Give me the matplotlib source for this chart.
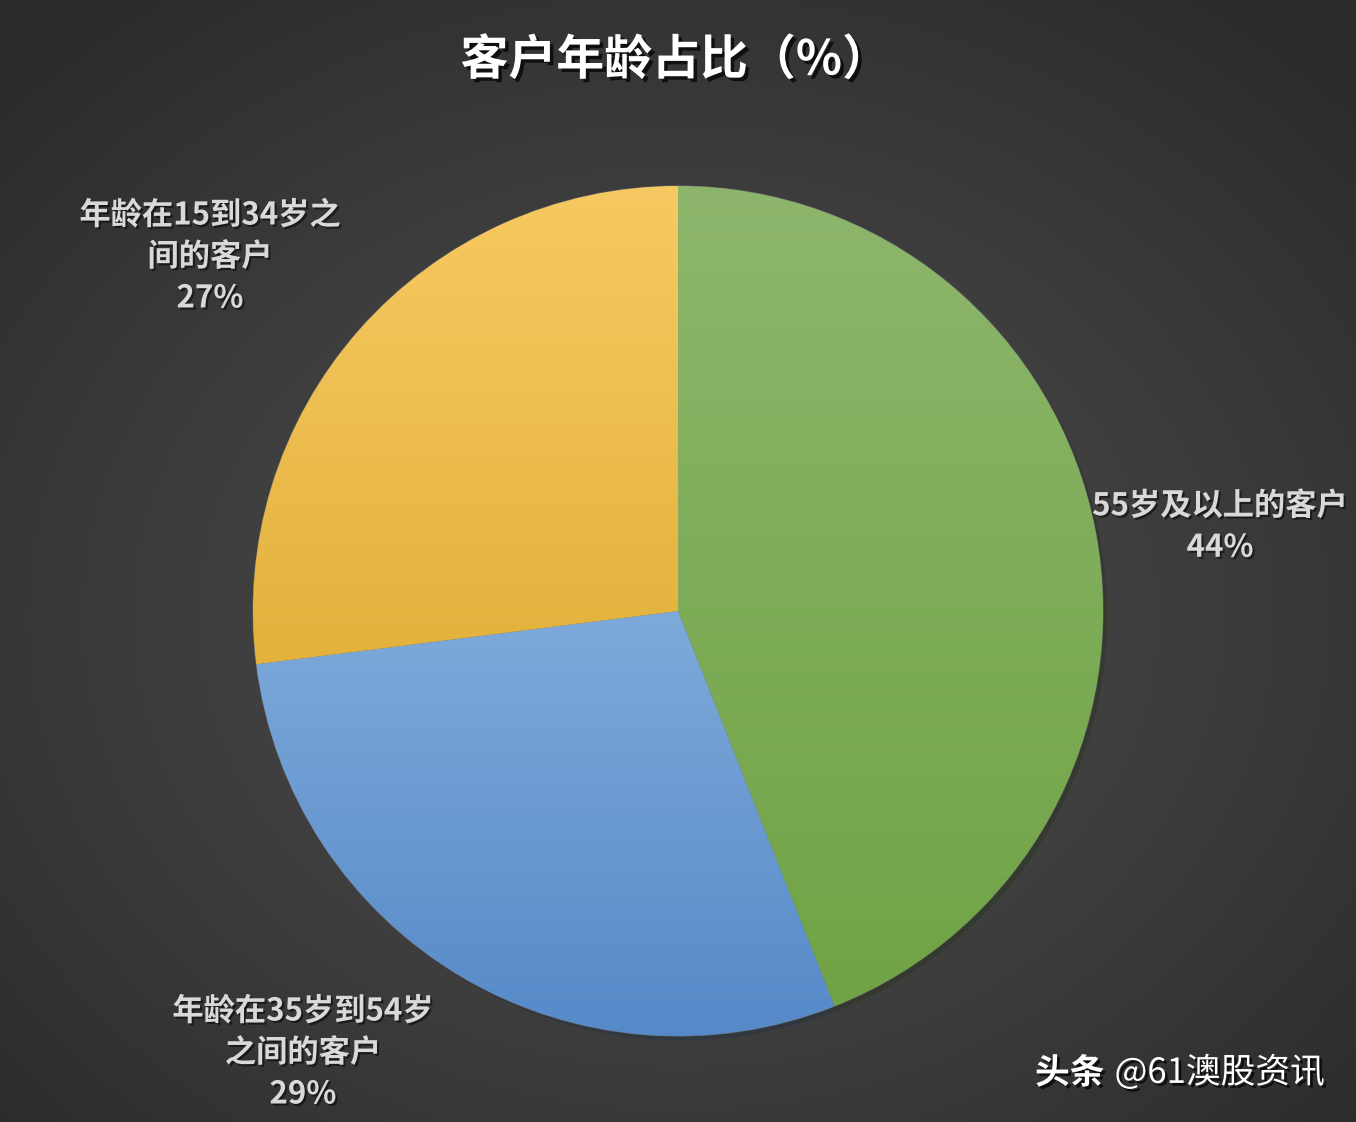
import numpy as np
import matplotlib
matplotlib.use('Agg')
import matplotlib.pyplot as plt
import matplotlib.patheffects as pe
from matplotlib.colors import LinearSegmentedColormap

plt.rcParams['font.family'] = ['Noto Sans CJK SC', 'DejaVu Sans']

# data
labels = ['55岁及以上的客户', '年龄在35岁到54岁\n之间的客户', '年龄在15到34岁之\n间的客户']
values = [44, 29, 27]
top_colors = ['#8db66c', '#7eaada', '#f7c962']
bottom_colors = ['#70a345', '#5589c8', '#e2b23c']

W, H = 1356, 1122
fig = plt.figure(figsize=(W / 100, H / 100), dpi=100)

# background radial gradient
bg = fig.add_axes([0, 0, 1, 1])
yy, xx = np.mgrid[0:H, 0:W]
d = np.sqrt(((xx - W * 0.5) / (W * 0.72)) ** 2 + ((yy - H * 0.55) / (H * 0.72)) ** 2)
d = np.clip(d, 0, 1)
bg_cmap = LinearSegmentedColormap.from_list('bg', ['#515151', '#2a2a2a'])
bg.imshow(d, cmap=bg_cmap, extent=[0, W, 0, H], origin='upper', aspect='auto')
bg.set_axis_off()

ax = fig.add_axes([0, 0, 1, 1])
cx, cy, r = 678, H - 611, 425
wedges, _ = ax.pie(values, startangle=90, counterclock=False, center=(cx, cy),
                   radius=r, colors=top_colors, frame=True,
                   wedgeprops=dict(linewidth=0.8, edgecolor='#666666'))

# gradient fill per slice (lighter at top, darker at bottom)
for w, c1, c2 in zip(wedges, top_colors, bottom_colors):
    w.set_path_effects([pe.SimplePatchShadow(offset=(3, -3), alpha=0.5), pe.Normal()])
    verts = w.get_path().vertices
    y0, y1 = verts[:, 1].min(), verts[:, 1].max()
    x0, x1 = verts[:, 0].min(), verts[:, 0].max()
    cm = LinearSegmentedColormap.from_list('g', [c2, c1])
    grad = np.linspace(0, 1, 256).reshape(-1, 1)
    im = ax.imshow(grad, cmap=cm, extent=[x0, x1, y0, y1], origin='lower',
                   aspect='auto', zorder=w.get_zorder() + 0.1)
    im.set_clip_path(w)

ax.set_xlim(0, W)
ax.set_ylim(0, H)
ax.set_aspect('equal')
ax.set_axis_off()

lab_color = '#d9d9d9'
shadow = [pe.withSimplePatchShadow(offset=(1.5, -1.5), shadow_rgbFace='black', alpha=0.5)]
pcts = ['%d%%' % v for v in values]
label_pos = [(1220, 527), (303, 1053), (210, 257)]
for lab, p, (lx, ly) in zip(labels, pcts, label_pos):
    ax.text(lx, H - ly, lab + '\n' + p, ha='center', va='center', fontsize=22.5,
            fontweight='bold', color=lab_color, linespacing=1.38, zorder=10,
            path_effects=shadow)

fig.text(675 / W, 1 - 60 / H, '客户年龄占比（%）', ha='center', va='center',
         fontsize=34.5, fontweight='black', color='white',
         path_effects=[pe.withSimplePatchShadow(offset=(2.5, -2.5), shadow_rgbFace='black', alpha=0.7)])

wm_shadow = [pe.withSimplePatchShadow(offset=(2, -2), shadow_rgbFace='black', alpha=0.7)]
fig.text(1035 / W, 1 - 1073 / H, '头条', ha='left', va='center',
         fontsize=25, fontweight='bold', color='white', path_effects=wm_shadow)
fig.text(1325 / W, 1 - 1073 / H, '@61澳股资讯', ha='right', va='center',
         fontsize=25, color='white', path_effects=wm_shadow)

fig.savefig('out.png', dpi=100)
